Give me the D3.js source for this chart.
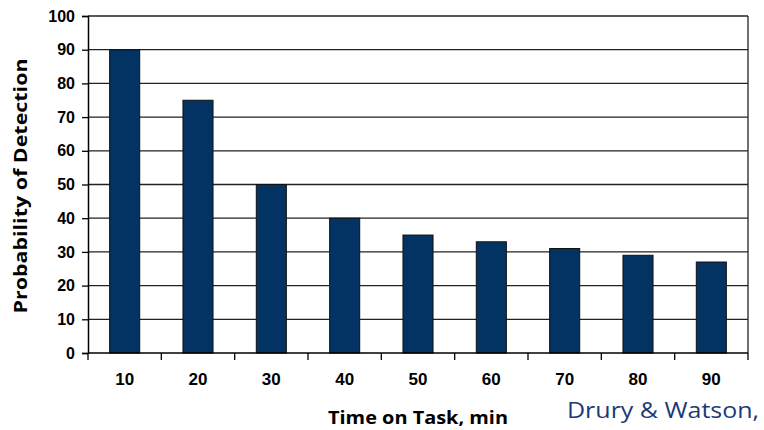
<!DOCTYPE html>
<html>
<head>
<meta charset="utf-8">
<script src="https://cdn.jsdelivr.net/npm/d3@7"></script>
<style>
  html, body { margin: 0; padding: 0; background: #fff; }
  svg { display: block; }
</style>
</head>
<body>
<svg id="chart" width="764" height="430"></svg>
<script>
// Probability of detection vs. time on task
const categories = ["10", "20", "30", "40", "50", "60", "70", "80", "90"];
const detection = [90, 75, 50, 40, 35, 33, 31, 29, 27];
const yTicks = [0, 10, 20, 30, 40, 50, 60, 70, 80, 90, 100];

const svg = d3.select("#chart");
const margin = { left: 88, right: 16, top: 16, bottom: 77 };
const W = 764, H = 430;
const innerW = W - margin.left - margin.right;
const innerH = H - margin.top - margin.bottom;

const g = svg.append("g").attr("transform", `translate(${margin.left},${margin.top})`);

const x = d3.scaleBand().domain(categories).range([0, innerW])
  .paddingInner(0.59).paddingOuter(0.295);
const xEdges = d3.scaleLinear().domain([0, categories.length]).range([0, innerW]);
const y = d3.scaleLinear().domain([0, 100]).range([innerH, 0]);

// horizontal gridlines
g.append("g").selectAll("line").data(yTicks.filter(d => d > 0)).join("line")
  .attr("x1", 0).attr("x2", innerW)
  .attr("y1", d => y(d)).attr("y2", d => y(d))
  .attr("stroke", "#222").attr("stroke-width", 1.3);

// bars
g.append("g").selectAll("rect").data(detection).join("rect")
  .attr("x", (d, i) => x(categories[i]))
  .attr("width", x.bandwidth())
  .attr("y", d => y(d))
  .attr("height", d => innerH - y(d))
  .attr("fill", "#033363")
  .attr("stroke", "#111").attr("stroke-width", 1);

// right frame edge
g.append("line").attr("x1", innerW).attr("x2", innerW).attr("y1", 0).attr("y2", innerH)
  .attr("stroke", "#222").attr("stroke-width", 1.3);

// y axis
const yAxis = d3.axisLeft(y).tickValues(yTicks).tickSize(6).tickPadding(7);
const yg = g.append("g").call(yAxis);
yg.select(".domain").attr("stroke", "#000").attr("stroke-width", 1.5);
yg.selectAll(".tick line").attr("stroke", "#000").attr("stroke-width", 1.3);
yg.selectAll("text").attr("font-family", "Liberation Sans, Arial, sans-serif")
  .attr("font-weight", "bold").attr("font-size", 16).attr("fill", "#000");

// x axis: labels centred on bars, ticks on category boundaries
const xg = g.append("g").attr("transform", `translate(0,${innerH})`);
xg.append("line").attr("x1", 0).attr("x2", innerW).attr("y1", 0).attr("y2", 0)
  .attr("stroke", "#000").attr("stroke-width", 1.5);
xg.selectAll("line.tk").data(d3.range(categories.length + 1)).join("line")
  .attr("class", "tk")
  .attr("x1", d => xEdges(d)).attr("x2", d => xEdges(d))
  .attr("y1", 0).attr("y2", 7)
  .attr("stroke", "#000").attr("stroke-width", 1.3);
xg.selectAll("text").data(categories).join("text")
  .attr("x", d => x(d) + x.bandwidth() / 2)
  .attr("y", 32)
  .attr("text-anchor", "middle")
  .attr("font-family", "Liberation Sans, Arial, sans-serif")
  .attr("font-weight", "bold").attr("font-size", 17).attr("fill", "#000")
  .text(d => d);

// axis titles
svg.append("text")
  .attr("transform", "translate(27,186) rotate(-90)")
  .attr("text-anchor", "middle")
  .attr("font-family", "Open Sans, Noto Sans, sans-serif")
  .attr("font-weight", "bold").attr("font-size", 18)
  .attr("textLength", 255).attr("lengthAdjust", "spacingAndGlyphs")
  .text("Probability of Detection");

svg.append("text")
  .attr("x", 418).attr("y", 424)
  .attr("text-anchor", "middle")
  .attr("font-family", "Open Sans, Noto Sans, sans-serif")
  .attr("font-weight", "bold").attr("font-size", 18)
  .attr("textLength", 180).attr("lengthAdjust", "spacingAndGlyphs")
  .text("Time on Task, min");

// source credit
svg.append("text")
  .attr("x", 567).attr("y", 418)
  .attr("font-family", "Open Sans, Noto Sans, sans-serif")
  .attr("font-size", 22).attr("fill", "#1c3a78")
  .attr("textLength", 192).attr("lengthAdjust", "spacingAndGlyphs")
  .text("Drury & Watson,");
</script>
</body>
</html>
